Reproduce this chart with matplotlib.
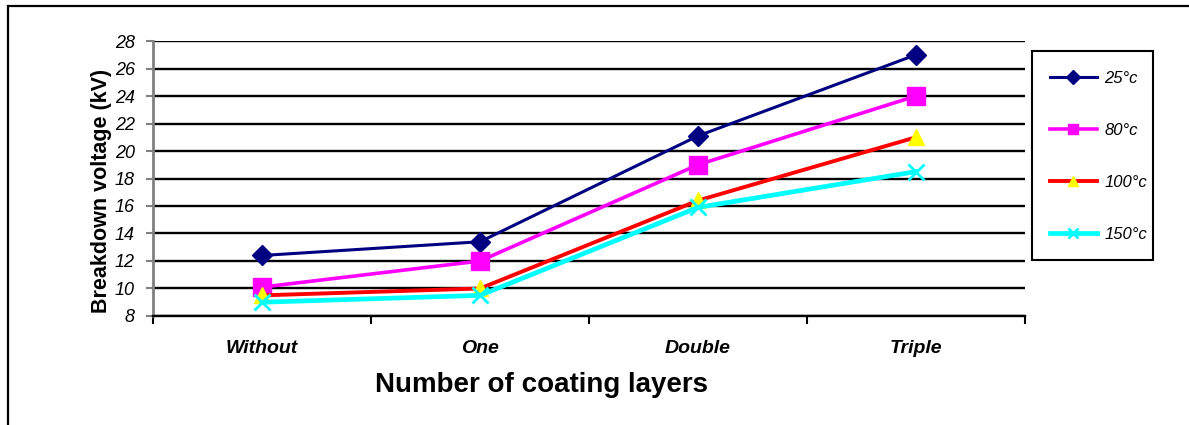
import matplotlib
matplotlib.use('Agg')
from matplotlib import pyplot as plt
from matplotlib.patches import Rectangle

categories = ['Without', 'One', 'Double', 'Triple']
v25 = [12.4, 13.4, 21.1, 27.0]
v80 = [10.1, 12.0, 19.0, 24.0]
v100 = [9.5, 10.0, 16.4, 21.0]
v150 = [9.0, 9.5, 15.9, 18.5]
y_ticks = list(range(8, 29, 2))

SANS = ['Liberation Sans', 'DejaVu Sans']
NARROW = ['Liberation Sans Narrow', 'DejaVu Sans Condensed', 'Liberation Sans', 'DejaVu Sans']

W, H = 1189, 425
fig = plt.figure(figsize=(11.89, 4.25), dpi=100)
ax = fig.add_axes([0.1287, 0.2565, 0.7334, 0.647])

x = list(range(len(categories)))
ax.plot(x, v25, color='#000080', lw=2.2, marker='D', ms=10, mfc='#000080', mec='#000080', label='25°c')
ax.plot(x, v80, color='#ff00ff', lw=2.6, marker='s', ms=12.5, mfc='#ff00ff', mec='#ff00ff', label='80°c')
ax.plot(x, v100, color='#ff0000', lw=2.8, marker='^', ms=12, mfc='#ffff00', mec='#ffff00', label='100°c')
ax.plot(x, v150, color='#00ffff', lw=3.4, marker='x', ms=11, mew=2, mfc='#00ffff', mec='#00ffff', label='150°c')

ax.set_xlim(-0.5, 3.5)
ax.set_ylim(8, 28)
ax.set_yticks(y_ticks)
ax.set_yticklabels([str(t) for t in y_ticks], fontstyle='italic', fontsize=13, family=SANS)
ax.set_xticks(x)
ax.set_xticklabels(categories, fontstyle='italic', fontweight='bold', fontsize=14, family=NARROW)
ax.set_xticks([-0.5, 0.5, 1.5, 2.5, 3.5], minor=True)
ax.tick_params(axis='x', which='major', length=0, pad=17)
ax.tick_params(axis='x', which='minor', length=6, width=1.5, direction='out', color='black')
ax.tick_params(axis='y', length=5, width=1.5, direction='out', color='#808080', pad=8)

ax.grid(axis='y', color='black', lw=1.7)
ax.set_axisbelow(True)
for s in ['top', 'right']:
    ax.spines[s].set_visible(False)
ax.spines['left'].set_color('#808080')
ax.spines['left'].set_linewidth(2)
ax.spines['bottom'].set_color('black')
ax.spines['bottom'].set_linewidth(1.7)

ax.set_ylabel('Breakdown voltage (kV)', fontsize=15.5, fontweight='bold', family=SANS, va='center')
ax.yaxis.set_label_coords(-0.059, 0.455)
ax.set_xlabel('Number of coating layers', fontsize=20, fontweight='bold', family=NARROW, va='center')
ax.xaxis.set_label_coords(0.446, -0.25)

leg = fig.legend(loc='upper left', bbox_to_anchor=(1030 / W, 1 - 51 / H), frameon=False,
                 labelspacing=2.22, borderpad=1.2, borderaxespad=0, handlelength=2.8,
                 handletextpad=0.45, prop={'style': 'italic', 'size': 12, 'family': SANS})
for h in leg.legend_handles:
    h.set_markersize(7)

# legend box, drawn separately so it hugs the labels like the original
fig.patches.append(Rectangle((1032 / W, 1 - 260 / H), 121 / W, 209 / H, transform=fig.transFigure,
                             fill=False, edgecolor='black', lw=1.5))

# outer border of the original figure
fig.patches.append(Rectangle((8 / W, -0.1), 1.2, 1.1 - 6 / H, transform=fig.transFigure,
                             fill=False, edgecolor='black', lw=1.6))

fig.savefig('out.png', dpi=100)
